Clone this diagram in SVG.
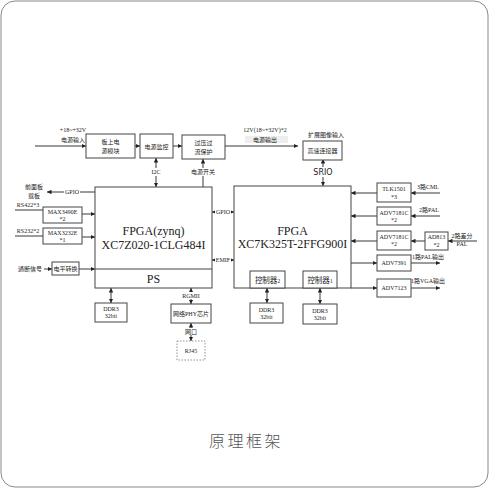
<svg xmlns="http://www.w3.org/2000/svg" width="490" height="490" viewBox="0 0 490 490">
<defs>
<marker id="ah" viewBox="0 0 6 6" refX="6" refY="3" markerWidth="4.5" markerHeight="4.5" orient="auto-start-reverse" markerUnits="userSpaceOnUse"><path d="M0,0 L6,3 L0,6 z" fill="#222"/></marker>
</defs>
<style>
.box{fill:#fff;stroke:#444;stroke-width:1}
.dash{fill:#fff;stroke:#777;stroke-width:0.8;stroke-dasharray:1.5,1.5}
.ln{fill:none;stroke:#222;stroke-width:0.9}
.a{marker-end:url(#ah)}
.d{marker-start:url(#ah);marker-end:url(#ah)}
text{font-family:"Liberation Serif","Noto Sans CJK SC",serif;fill:#222;text-anchor:middle}
.s{font-size:6px}
.m{font-size:7px}
.b{font-size:12px}
.bg{fill:#fff;stroke:none}
.title{font-family:"Noto Sans CJK SC","Noto Sans",sans-serif;font-size:16px;font-weight:300;fill:#555;letter-spacing:2.5px}
</style>
<rect x="1" y="1" width="487" height="486" rx="14" fill="#fff" stroke="#888" stroke-width="1"/>

<g id="connectors">
<line class="ln a" x1="35" y1="146" x2="86" y2="146"/>
<line class="ln a" x1="135" y1="146" x2="140" y2="146"/>
<line class="ln a" x1="173" y1="146" x2="182" y2="146"/>
<line class="ln a" x1="225" y1="146" x2="298" y2="146"/>
<line class="ln d" x1="156" y1="158" x2="156" y2="187"/>
<line class="ln a" x1="203" y1="187" x2="203" y2="159"/>
<line class="ln d" x1="323" y1="159" x2="323" y2="186"/>
<line class="ln a" x1="95" y1="192" x2="47" y2="192"/>
<line class="ln" x1="15" y1="210" x2="43" y2="210"/>
<line class="ln a" x1="82" y1="214" x2="95" y2="214"/>
<line class="ln" x1="15" y1="236" x2="43" y2="236"/>
<line class="ln a" x1="82" y1="237" x2="95" y2="237"/>
<line class="ln a" x1="44" y1="269" x2="52" y2="269"/>
<line class="ln a" x1="79" y1="269" x2="95" y2="269"/>
<line class="ln d" x1="212" y1="212" x2="234" y2="212"/>
<line class="ln d" x1="212" y1="260" x2="234" y2="260"/>
<line class="ln d" x1="111" y1="288" x2="111" y2="303"/>
<line class="ln d" x1="191" y1="288" x2="191" y2="304"/>
<line class="ln d" x1="191" y1="323" x2="191" y2="341"/>
<line class="ln d" x1="267" y1="288" x2="267" y2="303"/>
<line class="ln d" x1="320" y1="288" x2="320" y2="304"/>
<line class="ln a" x1="377" y1="193" x2="351" y2="193"/>
<line class="ln a" x1="440" y1="193" x2="411" y2="193"/>
<line class="ln a" x1="377" y1="216" x2="351" y2="216"/>
<line class="ln a" x1="440" y1="216" x2="411" y2="216"/>
<line class="ln a" x1="377" y1="241" x2="351" y2="241"/>
<line class="ln a" x1="425" y1="241" x2="411" y2="241"/>
<line class="ln a" x1="477" y1="241" x2="448" y2="241"/>
<line class="ln a" x1="351" y1="263" x2="377" y2="263"/>
<line class="ln a" x1="411" y1="263" x2="440" y2="263"/>
<line class="ln a" x1="351" y1="288" x2="377" y2="288"/>
<line class="ln a" x1="411" y1="288" x2="440" y2="288"/>
</g>

<g id="labels">
<text class="s" x="73" y="132">+18~+32V</text>
<text class="s" x="73" y="142">电源输入</text>
<text class="s" x="265" y="132">12V(18~+32V)*2</text>
<rect x="245" y="136" width="43" height="7" fill="#eee"/>
<text class="s" x="265" y="142">电源输出</text>
<text class="s" x="326" y="137">扩展图像输入</text>
<rect class="bg" x="150" y="168" width="12" height="8"/>
<text class="s" x="156" y="174">I2C</text>
<rect class="bg" x="190" y="168" width="26" height="8"/>
<text class="s" x="203" y="174">电源开关</text>
<rect class="bg" x="312" y="167" width="22" height="10"/>
<text x="323" y="175" style="font-family:'DejaVu Sans',sans-serif;font-size:8px">SRIO</text>
<text class="s" x="34" y="189">前面板</text>
<text class="s" x="34" y="198">载板</text>
<rect class="bg" x="64" y="189" width="16" height="7"/>
<text class="s" x="72" y="194">GPIO</text>
<text class="s" x="28" y="207">RS422*3</text>
<text class="s" x="28" y="233">RS232*2</text>
<text class="s" x="30" y="271">通断信号</text>
<rect class="bg" x="215" y="209" width="16" height="7"/>
<text class="s" x="223" y="214">GPIO</text>
<rect class="bg" x="215" y="257" width="16" height="7"/>
<text class="s" x="223" y="262">EMIF</text>
<rect class="bg" x="182" y="292" width="18" height="7"/>
<text class="s" x="191" y="298">RGMII</text>
<rect class="bg" x="184" y="328" width="14" height="7"/>
<text class="s" x="191" y="334">网口</text>
<text class="s" x="428" y="189">3路CML</text>
<text class="s" x="429" y="212">2路PAL</text>
<text class="s" x="462" y="238">2路差分</text>
<text class="s" x="462" y="246">PAL</text>
<text class="s" x="428" y="259">1路PAL输出</text>
<text class="s" x="428" y="283">1路VGA输出</text>
</g>

<g id="n-onboard"><rect class="box" x="86" y="134" width="49" height="24"/><text class="s" x="110.5" y="144">板上电</text><text class="s" x="110.5" y="153">源模块</text></g>
<g id="n-monitor"><rect class="box" x="140" y="134" width="33" height="24"/><text class="s" x="156.5" y="148.5">电源监控</text></g>
<g id="n-protect"><rect class="box" x="182" y="135" width="43" height="24"/><text class="s" x="203.5" y="145">过压过</text><text class="s" x="203.5" y="154">流保护</text></g>
<g id="n-conn"><rect class="box" x="303" y="141" width="39" height="19"/><text class="s" x="322.5" y="152.5">高速连接器</text></g>

<g id="n-zynq"><rect class="box" x="95" y="187" width="117" height="101"/><line x1="95" y1="269" x2="212" y2="269" stroke="#444" stroke-width="1"/><text class="b" x="153.5" y="235">FPGA(zynq)</text><text class="b" x="153.5" y="249">XC7Z020-1CLG484I</text><text class="b" x="153.5" y="283">PS</text></g>
<g id="n-k7"><rect class="box" x="234" y="186" width="117" height="102"/><text class="b" x="292.5" y="235">FPGA</text><text class="b" x="292.5" y="248">XC7K325T-2FFG900I</text></g>
<g id="n-ctrl2"><rect class="box" x="250" y="271" width="35" height="17"/><text x="267.5" y="282.5" style="font-size:7.5px">控制器<tspan style="font-size:5.5px">2</tspan></text></g>
<g id="n-ctrl1"><rect class="box" x="303" y="271" width="34" height="17"/><text x="320" y="282.5" style="font-size:7.5px">控制器<tspan style="font-size:5.5px">1</tspan></text></g>

<g id="n-max3490"><rect class="box" x="43" y="207" width="39" height="16"/><text class="s" x="62.5" y="213.5">MAX3490E</text><text class="s" x="62.5" y="220.5">*2</text></g>
<g id="n-max3232"><rect class="box" x="43" y="228" width="39" height="16"/><text class="s" x="62.5" y="234.5">MAX3232E</text><text class="s" x="62.5" y="241.5">*1</text></g>
<g id="n-level"><rect class="box" x="52" y="262" width="27" height="13"/><text class="s" x="65.5" y="271">电平转换</text></g>

<g id="n-ddr-ps"><rect class="box" x="95" y="303" width="32" height="19"/><text class="s" x="111" y="311">DDR3</text><text class="s" x="111" y="318">32bit</text></g>
<g id="n-phy"><rect class="box" x="171" y="304" width="40" height="19"/><text class="s" x="191" y="315.5">网络PHY芯片</text></g>
<g id="n-rj45"><rect class="dash" x="177" y="341" width="28" height="19"/><text class="s" x="191" y="353">RJ45</text></g>
<g id="n-ddr2"><rect class="box" x="250" y="303" width="33" height="20"/><text class="s" x="266.5" y="311.5">DDR3</text><text class="s" x="266.5" y="318.5">32bit</text></g>
<g id="n-ddr1"><rect class="box" x="303" y="304" width="34" height="20"/><text class="s" x="320" y="312.5">DDR3</text><text class="s" x="320" y="319.5">32bit</text></g>

<g id="n-tlk"><rect class="box" x="377" y="183" width="34" height="19"/><text class="s" x="394" y="191">TLK1501</text><text class="s" x="394" y="198.5">*3</text></g>
<g id="n-adv7181a"><rect class="box" x="377" y="207" width="34" height="18"/><text class="s" x="394" y="214.5">ADV7181C</text><text class="s" x="394" y="222">*2</text></g>
<g id="n-adv7181b"><rect class="box" x="377" y="231" width="34" height="19"/><text class="s" x="394" y="238.5">ADV7181C</text><text class="s" x="394" y="246">*2</text></g>
<g id="n-ad813"><rect class="box" x="425" y="232" width="23" height="18"/><text class="s" x="436.5" y="239">AD813</text><text class="s" x="436.5" y="246.5">*2</text></g>
<g id="n-adv7391"><rect class="box" x="377" y="255" width="34" height="16"/><text class="s" x="394" y="265">ADV7391</text></g>
<g id="n-adv7123"><rect class="box" x="377" y="279" width="34" height="18"/><text class="s" x="394" y="290">ADV7123</text></g>

<text class="title" x="246" y="447">原理框架</text>
</svg>
